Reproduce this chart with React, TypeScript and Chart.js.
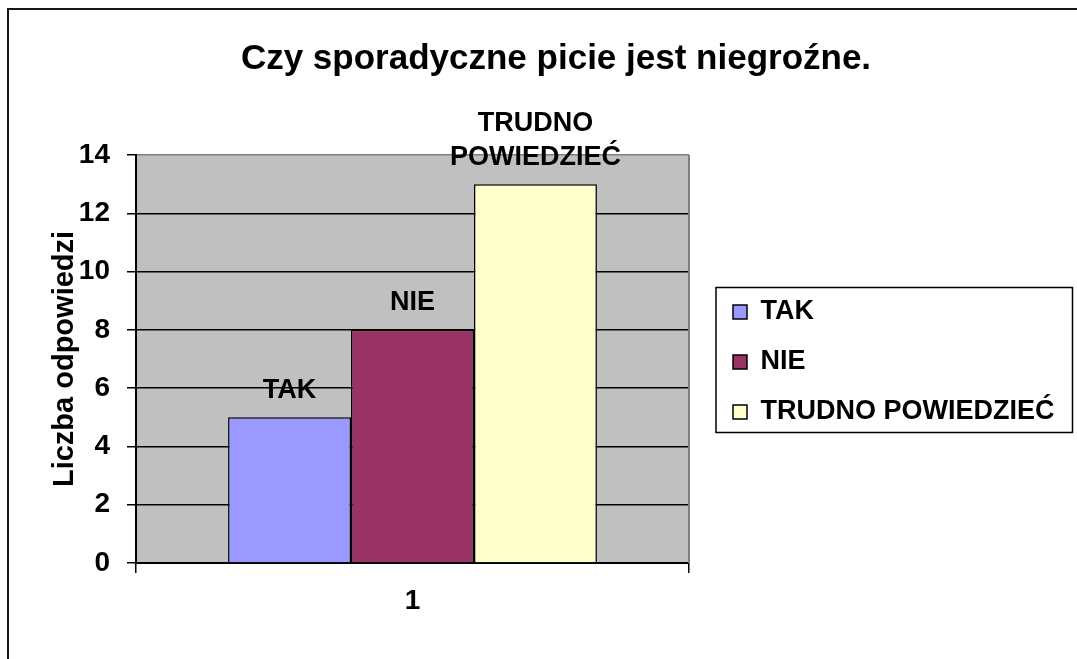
import React, { useEffect, useRef } from 'react';
import { Chart, registerables } from 'chart.js';

Chart.register(...registerables);

// ---------- data ----------
const TITLE = 'Czy sporadyczne picie jest niegroźne.';
const Y_TITLE = 'Liczba odpowiedzi';
const categories = ['1'];
const seriesNames = ['TAK', 'NIE', 'TRUDNO POWIEDZIEĆ'];
const seriesValues = [5, 8, 13];
const seriesLabelLines = [['TAK'], ['NIE'], ['TRUDNO', 'POWIEDZIEĆ']];
const yMin = 0;
const yMax = 14;
const yStep = 2;

// ---------- styles ----------
const seriesColors = ['#9999FF', '#993366', '#FFFFCC'];
const FONT = '"Liberation Sans", Arial, Helvetica, sans-serif';

export default function App() {
  const ref = useRef<HTMLCanvasElement>(null);

  useEffect(() => {
    const canvas = ref.current!;
    const W = 1077;
    const H = 659;
    const plotLeft = 136;
    const plotRight = 689;
    const plotBottom = 563;
    const legendFontSize = 27;
    const legendBox = 14;
    const legendPad = 23;
    const legendLeft = 710;
    const titleCenter = 556;

    const mctx = document.createElement('canvas').getContext('2d')!;
    mctx.font = `bold ${legendFontSize}px ${FONT}`;
    const maxText = Math.max(...seriesNames.map((s) => mctx.measureText(s).width));
    const legendWidth = legendPad + legendBox + legendFontSize / 2 + maxText + 10;
    const padRight = Math.max(0, W - legendLeft - legendWidth);
    const padLeft = 2 * titleCenter - W + padRight;
    const yTitleSize = 29;
    const yTitlePadTop = 65 - padLeft - (yTitleSize * 1.2) / 2;

    const decor = {
      id: 'decor',
      beforeDraw(chart: any) {
        const { ctx, chartArea } = chart;
        ctx.save();
        ctx.fillStyle = '#ffffff';
        ctx.fillRect(0, 0, W, H);
        ctx.fillStyle = '#151515';
        ctx.fillRect(7, 8, W - 7, 2);
        ctx.fillRect(7, 8, 2, H - 8);
        ctx.fillStyle = '#C0C0C0';
        ctx.fillRect(chartArea.left, chartArea.top, chartArea.right - chartArea.left, chartArea.bottom - chartArea.top);
        ctx.restore();
      },
      afterDatasetsDraw(chart: any) {
        const { ctx, chartArea } = chart;
        ctx.save();
        ctx.strokeStyle = '#808080';
        ctx.lineWidth = 2;
        ctx.beginPath();
        ctx.moveTo(chartArea.right, chartArea.top);
        ctx.lineTo(chartArea.right, chartArea.bottom);
        ctx.stroke();

        ctx.font = `bold 27px ${FONT}`;
        ctx.fillStyle = '#000';
        ctx.textAlign = 'center';
        ctx.textBaseline = 'middle';
        chart.data.datasets.forEach((_ds: any, i: number) => {
          const el = chart.getDatasetMeta(i).data[0];
          const lines = seriesLabelLines[i];
          lines.forEach((ln, j) => {
            const y = el.y - 27 - (lines.length - 1 - j) * 34;
            ctx.fillText(ln, el.x, y);
          });
        });
        ctx.restore();
      },
      afterDraw(chart: any) {
        const boxes = chart.legend && chart.legend.legendHitBoxes;
        if (!boxes || !boxes.length) return;
        const ctx = chart.ctx;
        const l = Math.min(...boxes.map((b: any) => b.left)) - 17;
        const t = Math.min(...boxes.map((b: any) => b.top)) - 11;
        const r = Math.max(...boxes.map((b: any) => b.left + b.width)) + 18;
        const btm = Math.max(...boxes.map((b: any) => b.top + b.height)) + 7;
        ctx.save();
        ctx.strokeStyle = '#000';
        ctx.lineWidth = 1.5;
        ctx.strokeRect(l, t, r - l, btm - t);
        ctx.restore();
      },
    };

    const chart = new Chart(canvas, {
      type: 'bar',
      data: {
        labels: categories,
        datasets: seriesNames.map((name, i) => ({
          label: name,
          data: [seriesValues[i]],
          backgroundColor: seriesColors[i],
          borderColor: '#000',
          borderWidth: 1.5,
          barPercentage: 1,
          categoryPercentage: 0.667,
        })),
      },
      options: {
        responsive: false,
        animation: false,
        layout: { padding: { left: padLeft, right: padRight, top: 0, bottom: 0 } },
        plugins: {
          title: {
            display: true,
            text: TITLE,
            color: '#000',
            font: { family: FONT, size: 35, weight: 'bold' },
            padding: { top: 38, bottom: 75 },
          },
          legend: {
            display: true,
            position: 'right',
            fullSize: false,
            align: 'center',
            maxWidth: 500,
            title: {
              display: true,
              text: ' ',
              font: { family: FONT, size: 5 },
              padding: 0,
            },
            labels: {
              color: '#000',
              font: { family: FONT, size: legendFontSize, weight: 'bold' },
              boxWidth: legendBox,
              boxHeight: legendBox,
              padding: legendPad,
            },
          },
          tooltip: { enabled: false },
        },
        scales: {
          x: {
            type: 'category',
            grid: {
              display: true,
              drawOnChartArea: false,
              drawTicks: true,
              tickLength: 10,
              color: '#000',
              tickColor: '#000',
              lineWidth: 1.5,
            },
            border: { display: true, color: '#000', width: 2 },
            ticks: {
              color: '#000',
              font: { family: FONT, size: 28, weight: 'bold' },
              padding: 11,
            },
            afterFit: (s: any) => {
              s.height = H - plotBottom;
            },
          },
          y: {
            type: 'linear',
            position: 'left',
            min: yMin,
            max: yMax,
            grid: {
              color: (c: any) => (c.tick && c.tick.value === yMax ? '#808080' : '#000'),
              tickColor: '#000',
              lineWidth: 1.5,
              tickLength: 9,
            },
            border: { display: true, color: '#000', width: 2 },
            ticks: {
              stepSize: yStep,
              color: '#000',
              font: { family: FONT, size: 28, weight: 'bold' },
              padding: 17,
            },
            title: {
              display: true,
              text: Y_TITLE,
              color: '#000',
              font: { family: FONT, size: yTitleSize, weight: 'bold' },
              padding: { top: yTitlePadTop, bottom: 0 },
            },
            afterFit: (s: any) => {
              s.width = plotLeft - padLeft;
            },
          },
          gap: {
            type: 'linear',
            position: 'right',
            display: true,
            grid: { display: false },
            ticks: { display: false },
            border: { display: false },
            afterFit: (s: any) => {
              s.width = legendLeft - plotRight;
            },
          },
        },
      } as any,
      plugins: [decor],
    });

    return () => chart.destroy();
  }, []);

  return (
    <div style={{ position: 'fixed', left: 0, top: 0, width: 1077, height: 659, background: '#fff' }}>
      <canvas ref={ref} width={1077} height={659} style={{ display: 'block' }} />
    </div>
  );
}
